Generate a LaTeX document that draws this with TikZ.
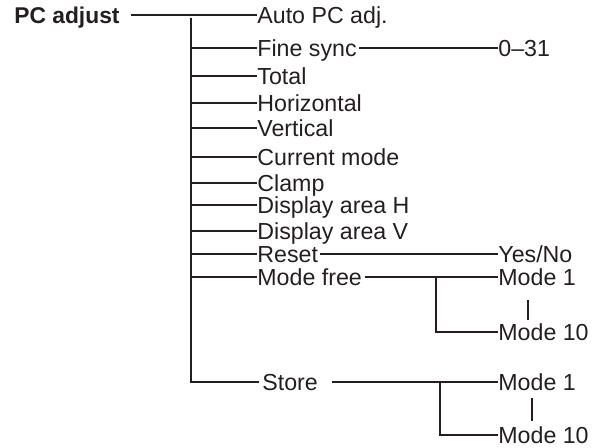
\documentclass[tikz,border=0pt]{standalone}
\usepackage{fontspec}
\setmainfont{Liberation Sans}
\definecolor{ink}{HTML}{231F20}
\begin{document}
\begin{tikzpicture}[x=0.5pt,y=-0.5pt,
  lbl/.style={anchor=west,inner sep=0pt,text height=8.3pt,text depth=0pt,
    font=\fontsize{11.6pt}{13.5pt}\selectfont,text=ink},
  wire/.style={draw=ink,line width=0.6pt},
  bar/.style={draw=ink,line width=1pt}]
\useasboundingbox (0,0) rectangle (601,448);
% root
\node[lbl,font=\fontsize{11.4pt}{13.5pt}\selectfont\bfseries] (pc) at (14,15) {PC adjust};
% first level
\node[lbl] (auto) at (257,15) {Auto PC adj.};
\node[lbl] (fine) at (257,48) {Fine sync};
\node[lbl] (total) at (257,76) {Total};
\node[lbl] (hor) at (257,103) {Horizontal};
\node[lbl] (ver) at (257,128) {Vertical};
\node[lbl] (cur) at (257,157) {Current mode};
\node[lbl] (clamp) at (257,183) {Clamp};
\node[lbl] (dah) at (257,205) {Display area H};
\node[lbl] (dav) at (257,231) {Display area V};
\node[lbl] (reset) at (257,254) {Reset};
\node[lbl] (mfree) at (257,277) {Mode free};
\node[lbl] (store) at (262,382) {Store};
% second level
\node[lbl] (r031) at (498,48) {0–31};
\node[lbl] (yesno) at (498,254) {Yes/No};
\node[lbl] (m1a) at (498,277) {Mode 1};
\node[lbl] (m10a) at (498,332) {Mode 10};
\node[lbl] (m1b) at (498,382) {Mode 1};
\node[lbl] (m10b) at (498,435) {Mode 10};
% trunk
\coordinate (vtop) at (191,18);
\coordinate (vbot) at (191,382);
\draw[wire,shorten <=5.5pt] (pc.east) -- (auto.west);
\draw[wire,line width=0.7pt] (vtop) -- (vbot) -- ([xshift=-1.5pt]store.west);
\foreach \n in {fine,total,hor,ver,cur,clamp,dah,dav,reset,mfree}
  \draw[wire] (vbot|-\n.west) -- (\n.west);
% second level wires
\draw[wire,shorten <=1pt] (fine.east) -- (r031.west);
\draw[wire,shorten <=1pt] (reset.east) -- (yesno.west);
\coordinate (ja) at (436,277);
\draw[wire,shorten <=1.5pt] (mfree.east) -- (m1a.west);
\draw[wire] (ja) -- (ja|-m10a.west) -- (m10a.west);
\coordinate (jb) at (440,382);
\draw[wire,shorten <=7pt] (store.east) -- (m1b.west);
\draw[wire] (jb) -- (jb|-m10b.west) -- (m10b.west);
% continuation bars
\coordinate (ba1) at (528,300); \coordinate (ba2) at (528,320);
\coordinate (bb1) at (532,398); \coordinate (bb2) at (532,421);
\draw[bar] (ba1) -- (ba2);
\draw[bar] (bb1) -- (bb2);
\end{tikzpicture}
\end{document}
